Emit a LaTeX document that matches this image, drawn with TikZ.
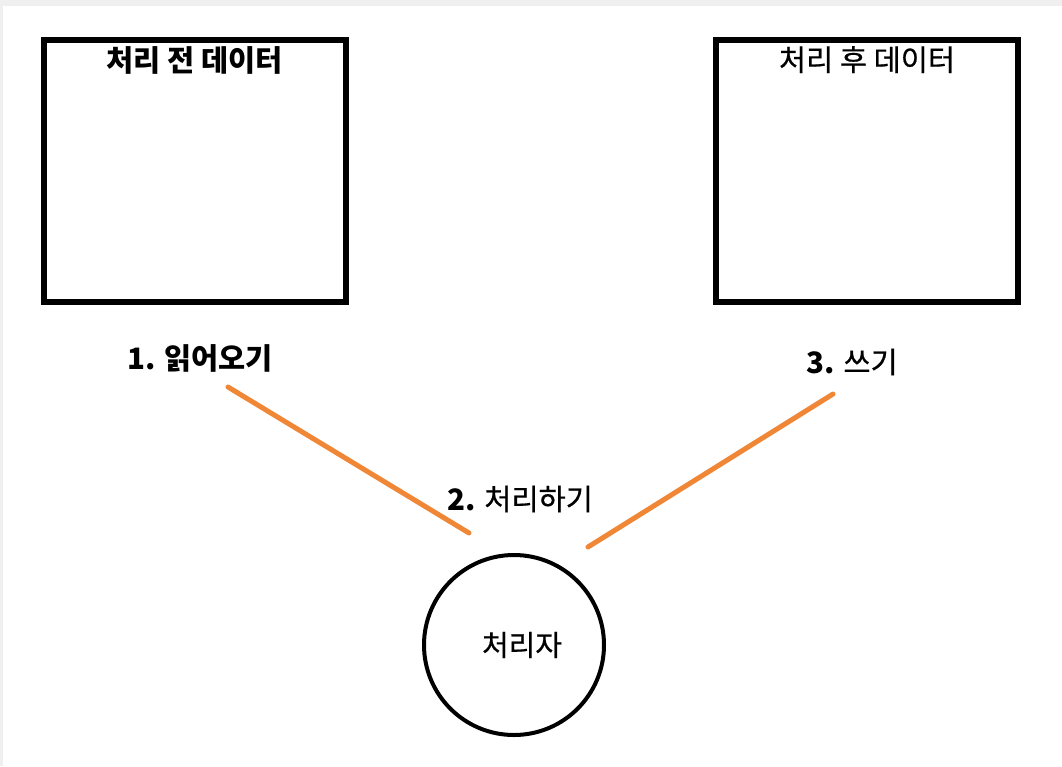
\documentclass[tikz,border=0pt]{standalone}
\usepackage{fontspec}
\setmainfont{Noto Sans CJK KR}[UprightFeatures={FakeBold=0.6}]
\usetikzlibrary{positioning}
\definecolor{cFrame}{RGB}{239,239,239}
\definecolor{cFlow}{RGB}{240,135,55}
\tikzset{
  databox/.style={rectangle, draw=black, line width=6pt,
                  minimum width=302pt, minimum height=262pt},
  procnode/.style={circle, draw=black, line width=4pt, minimum size=180pt,
                   font=\fontsize{29}{34}\selectfont},
  titletext/.style={inner sep=0pt, font=\fontsize{29.5}{35}\selectfont},
  steptext/.style={inner sep=0pt, font=\fontsize{29.5}{35}\selectfont},
  flowline/.style={line width=5pt, color=cFlow, line cap=round}
}
\begin{document}
\begin{tikzpicture}[x=1pt, y=-1pt]
  % frame
  \fill[cFrame] (0,0) rectangle (1062,766);
  \fill[white] (3,6) rectangle (1062,766);
  \useasboundingbox (0,0) rectangle (1062,766);

  \node[databox] (before) at (194.5,171) {};
  \node[databox] (after) at (867,171) {};
  \node[titletext, below=9pt of before.north] (before_t) {\bfseries 처리 전 데이터};
  \node[titletext, below=9pt of after.north] (after_t) {처리 후 데이터};

  \node[procnode] (proc) at (514,645) {\hspace{16pt}\raisebox{-5pt}{처리자}};

  \node[steptext] (read) at (200,358) {\bfseries 1. 읽어오기};
  \node[steptext] (work) at (520,499) {\textbf{2.} 처리하기};
  \node[steptext] (write) at (852,362) {\textbf{3.} 쓰기};

  \coordinate (read_a) at (228,387);
  \coordinate (read_b) at (469,533);
  \coordinate (write_a) at (588,547);
  \coordinate (write_b) at (833,394);
  \draw[flowline] (read_a) -- (read_b);
  \draw[flowline] (write_a) -- (write_b);
\end{tikzpicture}
\end{document}
